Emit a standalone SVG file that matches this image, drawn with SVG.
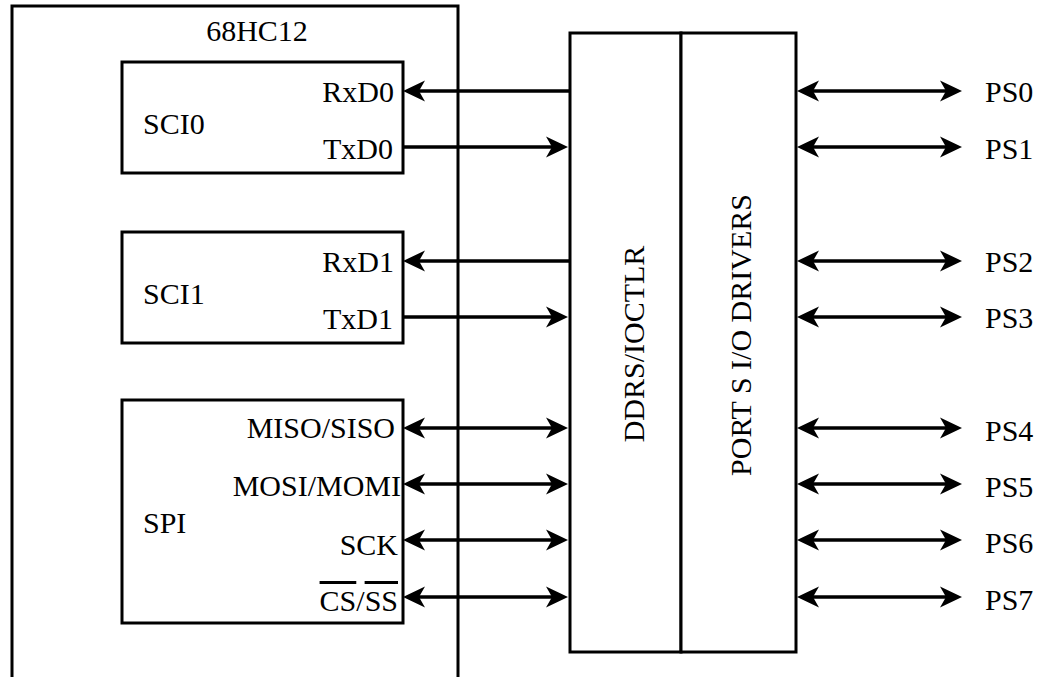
<svg xmlns="http://www.w3.org/2000/svg" width="1040" height="677" viewBox="0 0 1040 677">
<style>
.box{fill:#fff;stroke:#000;stroke-width:3}
.ln{fill:none;stroke:#000;stroke-width:3}
.t{font-family:"Liberation Serif","Times New Roman",serif;font-size:30px;fill:#000}
.e{text-anchor:end}
.c{text-anchor:middle}
.w{stroke:#000;stroke-width:3.5;fill:none}
</style>
<defs>
<marker id="ah" viewBox="-23 -11 24 22" refX="-8" refY="0" markerWidth="24" markerHeight="22" markerUnits="userSpaceOnUse" orient="auto-start-reverse">
<path d="M0,0 L-22,-10.5 L-16,0 L-22,10.5 Z" fill="#000"/>
</marker>
</defs>
<rect width="1040" height="677" fill="#fff"/>
<g id="mcu">
<path class="ln" d="M12,677 V6 H458 V677"/>
<text class="t c" x="257" y="41">68HC12</text>
</g>
<g id="sci0">
<rect class="box" x="122" y="62" width="281" height="111"/>
<text class="t" x="143" y="134">SCI0</text>
<text class="t e" x="394" y="102">RxD0</text>
<text class="t e" x="393" y="159">TxD0</text>
</g>
<g id="sci1">
<rect class="box" x="122" y="232" width="281" height="111"/>
<text class="t" x="143" y="304">SCI1</text>
<text class="t e" x="394" y="272">RxD1</text>
<text class="t e" x="393" y="329">TxD1</text>
</g>
<g id="spi">
<rect class="box" x="122" y="400" width="281" height="223"/>
<text class="t" x="143" y="533">SPI</text>
<text class="t e" x="395" y="438">MISO/SISO</text>
<text class="t e" x="401" y="496">MOSI/MOMI</text>
<text class="t e" x="398" y="555">SCK</text>
<text class="t e" x="398" y="611"><tspan text-decoration="overline">CS</tspan>/<tspan text-decoration="overline">SS</tspan></text>
</g>
<g id="ddrs">
<rect class="box" x="570" y="33" width="111" height="619"/>
<text class="t c" transform="translate(644,344) rotate(-90)">DDRS/IOCTLR</text>
</g>
<g id="drivers">
<rect class="box" x="681" y="33" width="115" height="619"/>
<text class="t c" transform="translate(751,335) rotate(-90)">PORT S I/O DRIVERS</text>
</g>
<g id="connectors">
<line class="w" x1="570" y1="91" x2="411" y2="91" marker-end="url(#ah)"/>
<line class="w" x1="403" y1="147" x2="560" y2="147" marker-end="url(#ah)"/>
<line class="w" x1="570" y1="261" x2="411" y2="261" marker-end="url(#ah)"/>
<line class="w" x1="403" y1="317" x2="560" y2="317" marker-end="url(#ah)"/>
<line class="w" x1="411" y1="428" x2="560" y2="428" marker-start="url(#ah)" marker-end="url(#ah)"/>
<line class="w" x1="411" y1="484" x2="560" y2="484" marker-start="url(#ah)" marker-end="url(#ah)"/>
<line class="w" x1="411" y1="540" x2="560" y2="540" marker-start="url(#ah)" marker-end="url(#ah)"/>
<line class="w" x1="411" y1="597" x2="560" y2="597" marker-start="url(#ah)" marker-end="url(#ah)"/>
<line class="w" x1="805" y1="91" x2="954" y2="91" marker-start="url(#ah)" marker-end="url(#ah)"/>
<line class="w" x1="805" y1="147" x2="954" y2="147" marker-start="url(#ah)" marker-end="url(#ah)"/>
<line class="w" x1="805" y1="261" x2="954" y2="261" marker-start="url(#ah)" marker-end="url(#ah)"/>
<line class="w" x1="805" y1="317" x2="954" y2="317" marker-start="url(#ah)" marker-end="url(#ah)"/>
<line class="w" x1="805" y1="428" x2="954" y2="428" marker-start="url(#ah)" marker-end="url(#ah)"/>
<line class="w" x1="805" y1="484" x2="954" y2="484" marker-start="url(#ah)" marker-end="url(#ah)"/>
<line class="w" x1="805" y1="540" x2="954" y2="540" marker-start="url(#ah)" marker-end="url(#ah)"/>
<line class="w" x1="805" y1="597" x2="954" y2="597" marker-start="url(#ah)" marker-end="url(#ah)"/>
</g>
<g id="ports">
<text class="t" x="985" y="102">PS0</text>
<text class="t" x="985" y="159">PS1</text>
<text class="t" x="985" y="272">PS2</text>
<text class="t" x="985" y="328">PS3</text>
<text class="t" x="985" y="441">PS4</text>
<text class="t" x="985" y="497">PS5</text>
<text class="t" x="985" y="553">PS6</text>
<text class="t" x="985" y="610">PS7</text>
</g>
</svg>
